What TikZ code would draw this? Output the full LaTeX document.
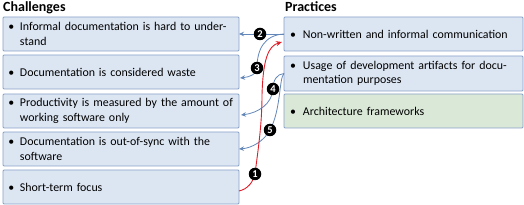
\documentclass[tikz,border=0pt]{standalone}
\usepackage{fontspec}
\setmainfont{Carlito}
\usetikzlibrary{arrows.meta}
\definecolor{bfill}{RGB}{220,230,243}
\definecolor{gfill}{RGB}{217,232,215}
\definecolor{bord}{RGB}{135,160,198}
\definecolor{barrow}{RGB}{100,135,185}
\definecolor{rarrow}{RGB}{222,30,40}
\newcommand\itm[1]{\makebox[11.5pt][l]{\textbullet}#1}
\newcommand\itmr[1]{\makebox[13pt][l]{\textbullet}#1}
\begin{document}
\begin{tikzpicture}[x=1pt,y=-1pt,
  box/.style={draw=bord, line width=0.8pt, fill=bfill, rounded corners=1pt,
     anchor=north west, outer sep=0pt, minimum height=34pt, align=left,
     font=\fontsize{11.9}{14.5}\selectfont},
  lbox/.style={box, minimum width=236pt, text width=225pt, inner xsep=5.5pt},
  rbox/.style={box, minimum width=239pt, text width=227pt, inner xsep=6pt},
  title/.style={anchor=base west, inner sep=0pt, font=\fontsize{14}{15}\selectfont\bfseries},
  num/.style={circle, fill=black, text=white, inner sep=0pt, minimum size=12.5pt,
     font=\fontsize{10.5}{10}\selectfont\bfseries},
  barr/.style={draw=barrow, line width=0.8pt, -{Stealth[length=5pt,width=4.5pt]}},
  rarr/.style={draw=rarrow, line width=0.9pt, -{Stealth[length=6pt,width=5pt]}}]
\useasboundingbox (0,0) rectangle (524,205);
\node[title] (tc) at (3,12) {Challenges};
\node[title] (tp) at (285,12) {Practices};
\node[lbox] (l1) at (3,17) {\itm{Informal documentation is hard to under-}\\\hspace*{11.5pt}stand};
\node[lbox] (l2) at (3,55) {\itm{Documentation is considered waste}};
\node[lbox] (l3) at (3,94) {\itm{Productivity is measured by the amount of}\\\hspace*{11.5pt}working software only};
\node[lbox] (l4) at (3,132) {\itm{Documentation is out-of-sync with the}\\\hspace*{11.5pt}software};
\node[lbox] (l5) at (3,170) {\itm{Short-term focus}};
\node[rbox] (r1) at (284,17) {\itmr{Non-written and informal communication}};
\node[rbox, minimum height=35pt] (r2) at (284,56) {\itmr{Usage of development artifacts for docu-}\\\hspace*{13pt}mentation purposes};
\node[rbox, fill=gfill] (r3) at (284,94) {\itmr{Architecture frameworks}};
% label positions
\coordinate (c1) at (255,174);
\coordinate (c2) at (260,34);
\coordinate (c3) at (257,68);
\coordinate (c4) at (273,89);
\coordinate (c5) at (270,130);
\coordinate (s1) at (239,191);
\coordinate (e1) at (282,42);
\coordinate (e3) at (240,78);
\coordinate (e4) at (241,115);
% connectors
\draw[barr] (r1.west) -- (l1.east |- r1.west);
\draw[barr] (r1.west) .. controls (264,35) and (257,50) .. (c3) .. controls (257,74) and (250,77) .. (e3);
\draw[barr] (r2.west) .. controls (277,74) and (273,80) .. (c4) .. controls (272,104) and (258,113) .. (e4);
\draw[barr] (r2.west) .. controls (279,78) and (281,110) .. (c5) .. controls (264,141) and (252,148) .. (l4.east);
\draw[rarr] (s1) .. controls (248,189) and (253,182) .. (c1) .. controls (258,150) and (262,125) .. (262,95) .. controls (263,60) and (268,46) .. (e1);
% labels
\node[num] (n1) at (c1) {1};
\node[num] (n2) at (c2) {2};
\node[num] (n3) at (c3) {3};
\node[num] (n4) at (c4) {4};
\node[num] (n5) at (c5) {5};
\end{tikzpicture}
\end{document}
